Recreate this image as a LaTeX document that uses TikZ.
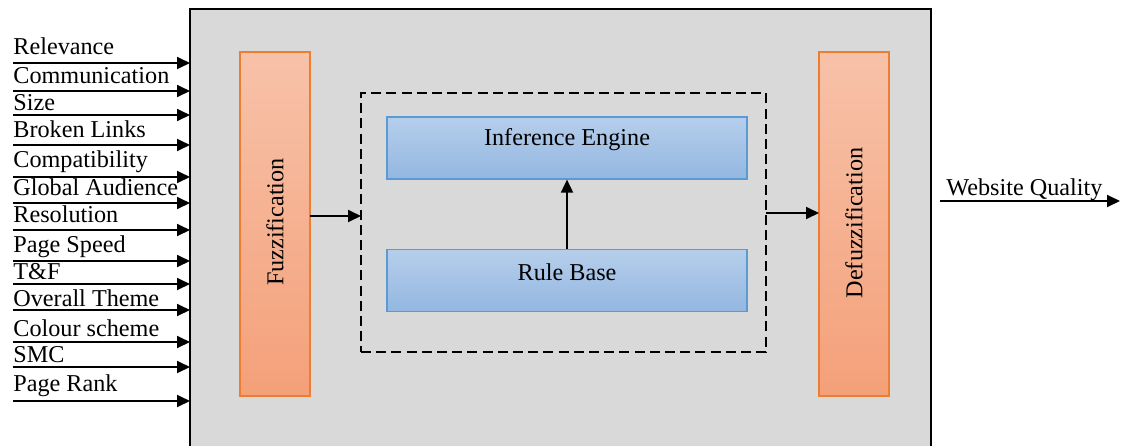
\documentclass[tikz,border=0pt]{standalone}
\usepackage{fontspec}
\setmainfont{Liberation Serif}
\usetikzlibrary{arrows.meta,calc}
\definecolor{boxgray}{HTML}{D9D9D9}
\definecolor{orTop}{HTML}{F7C2A9}
\definecolor{orBot}{HTML}{F4A079}
\definecolor{orEdge}{HTML}{ED7D31}
\definecolor{blTop}{HTML}{B6CEEB}
\definecolor{blBot}{HTML}{93B7E1}
\definecolor{blEdge}{HTML}{5B9BD5}
\tikzset{
  arr/.style={line width=0.9pt,-{Triangle[length=6.5pt,width=6pt]}},
  lbl/.style={anchor=base west,inner sep=0pt,font=\fontsize{12.1}{14}\selectfont},
  txt/.style={inner sep=0pt,font=\fontsize{12.1}{14}\selectfont},
  orbar/.style={draw=orEdge,line width=0.6pt,top color=orTop,bottom color=orBot,minimum width=35pt,minimum height=172pt,inner sep=0pt},
  blbox/.style={draw=blEdge,line width=0.6pt,top color=blTop,bottom color=blBot,minimum width=180pt,minimum height=31pt,inner sep=0pt},
}
\begin{document}
\begin{tikzpicture}[x=0.5pt,y=-0.5pt]
\useasboundingbox (0,0) rectangle (1122,445);
% main gray box
\fill[boxgray] (190,460) rectangle (931,9);
\draw[line width=1pt] (190,460) -- (190,9) -- (931,9) -- (931,460);
\coordinate (boxW) at (190,9);
% fuzzification / defuzzification bars
\node[orbar] (fuzz) at (275,224) {};
\node[txt,rotate=90] (fuzzt) at (275,222) {Fuzzification};
\node[orbar] (defuzz) at (854,224) {};
\node[txt,rotate=90] (defuzzt) at (854,223) {Defuzzification};
% dashed box
\node[draw,dashed,dash pattern=on 5pt off 2.6pt,line width=0.9pt,minimum width=202.5pt,minimum height=129.5pt,inner sep=0pt] (dash) at (563.5,222.5) {};
% inference engine, rule base
\node[blbox] (ie) at (567,148) {};
\node[txt] (iet) at (567,140) {Inference Engine};
\node[blbox] (rb) at (567,280.5) {};
\node[txt] (rbt) at (567,272) {Rule Base};
\draw[arr] (rb.north) -- (ie.south);
% internal arrows
\coordinate (f1) at (310,216);
\coordinate (f2) at (361,216);
\draw[arr] (f1) -- (f2);
\coordinate (d1) at (766,213);
\coordinate (d2) at (819,213);
\draw[arr] (d1) -- (d2);
% inputs
\foreach \name/\txt/\base/\ly in {
  a/Relevance/54/63,
  b/Communication/83/91,
  c/Size/110/115,
  d/Broken Links/137/145,
  e/Compatibility/167/177,
  f/Global Audience/195/203,
  g/Resolution/222/230,
  h/Page Speed/252/261,
  i/T\&F/279/284,
  j/Overall Theme/306/310,
  k/Colour scheme/336/342,
  l/SMC/362/367,
  m/Page Rank/391/401}{
  \node[lbl] (in\name) at (13,\base) {\txt};
  \coordinate (s\name) at (13,\ly);
  \coordinate (t\name) at (190,\ly);
  \draw[arr] (s\name) -- (t\name);
}
% output
\node[lbl] (outt) at (946,195) {Website Quality};
\coordinate (o1) at (940,201);
\coordinate (o2) at (1120,201);
\draw[arr] (o1) -- (o2);
\end{tikzpicture}
\end{document}
